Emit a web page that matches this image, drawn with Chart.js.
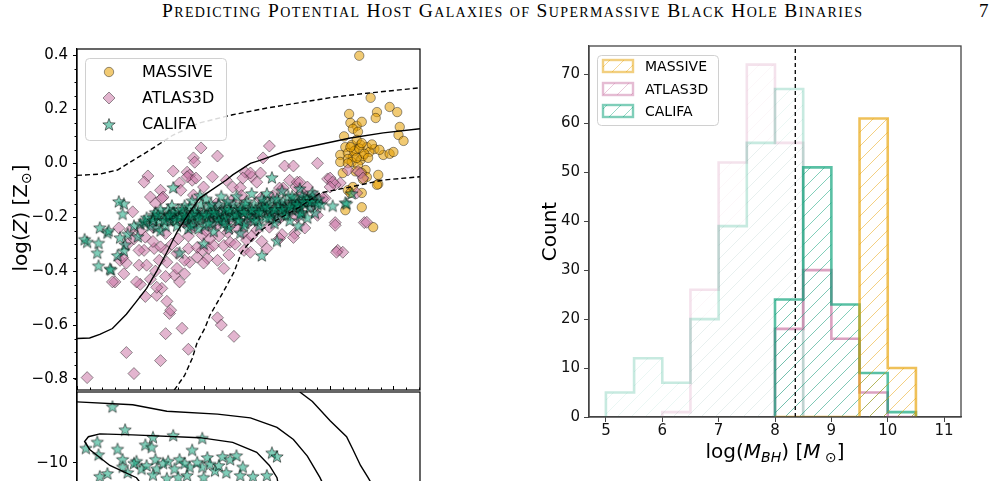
<!DOCTYPE html>
<html>
<head>
<meta charset="utf-8">
<script src="https://cdn.jsdelivr.net/npm/chart.js@4.4.1/dist/chart.umd.min.js"></script>
<style>
html, body { margin: 0; padding: 0; width: 1000px; height: 481px; overflow: hidden; background: #fff; }
canvas { position: absolute; }
#head { position: absolute; left: 162px; top: 0; display: inline-block; white-space: nowrap;
        font-family: "Liberation Serif", serif; font-variant: small-caps; font-size: 19.5px; color: #000; }
#page { position: absolute; left: 979px; top: 0; font-family: "Liberation Serif", serif; font-size: 19px; color: #000; }
</style>
</head>
<body>
<div id="head">Predicting Potential Host Galaxies of Supermassive Black Hole Binaries</div>
<div id="page">7</div>
<canvas id="zTop" width="440" height="400" style="left:0;top:0"></canvas>
<canvas id="zLow" width="440" height="200" style="left:0;top:385px"></canvas>
<canvas id="hist" width="480" height="451" style="left:500px;top:30px"></canvas>
<script>
// ---------- left panel: metallicity vs mass ----------
const massivePts = [
  [11.23,0.399],[11.32,0.243],[11.47,0.209],[11.53,0.19],[11.37,0.19],[11.36,0.168],[11.15,0.183],
  [11.16,0.15],[11.21,0.139],[11.25,0.154],[11.18,0.128],[11.22,0.117],[11.55,0.135],[11.54,0.105],
  [11.58,0.083],[11.12,0.06],[11.20,0.05],[11.24,0.068],[11.29,0.06],[11.35,0.053],[11.42,0.031],
  [11.47,0.035],[11.08,0.031],[11.14,0.038],[11.18,0.023],[11.08,0.005],[11.14,0.016],[11.24,0.012],
  [11.28,-0.025],[11.25,-0.036],[11.10,-0.036],[11.38,-0.043],[11.29,-0.051],[11.38,-0.077],
  [11.14,-0.10],[11.16,-0.11],[11.18,-0.088],[11.25,-0.11],[11.12,-0.174],[11.25,-0.163],[11.34,-0.237],
  [11.37,-0.08],[11.17,0.068],[11.31,0.042],[11.26,0.027],[11.21,0.087],[11.39,0.05],[11.50,0.042],
  [11.17,0.005],[11.22,-0.006],[11.19,0.045],[11.23,0.055],[11.27,0.035],[11.21,0.02],[11.16,0.06],
  [11.25,0.075],[11.30,0.02],[11.14,0.0],[11.20,-0.03],[11.26,-0.06],[11.33,0.07],[11.11,0.10]
];
const atlasPts = [
  [9.98,0.057],[9.92,0.02],[10.11,0.027],[9.93,0.004],[10.52,0.064],[10.47,0.02],[10.64,-0.01],[10.71,-0.01],
  [10.90,0.0],[9.56,-0.047],[9.76,-0.029],[9.87,-0.033],[9.89,-0.044],[9.91,-0.063],[10.33,-0.033],[10.38,-0.05],
  [9.87,-0.05],[9.94,-0.055],[10.07,-0.05],[10.98,-0.058],[11.08,-0.073],[11.14,-0.025],[11.22,-0.03],[10.42,-0.07],
  [10.68,-0.063],[10.73,-0.088],[10.60,-0.092],[10.23,-0.088],[9.66,-0.10],[9.58,-0.125],[9.53,-0.07],[9.81,-0.073],
  [9.82,-0.10],[9.68,-0.125],[9.62,-0.148],[9.44,-0.18],[9.92,-0.118],[10.37,-0.036],[10.45,-0.036],[10.31,-0.055],
  [10.18,-0.063],[10.74,-0.07],[10.82,-0.088],[10.63,-0.092],[10.78,-0.11],[10.0,-0.088],[10.29,-0.09],[11.0,-0.055],
  [11.04,-0.08],[10.96,-0.13],[10.76,-0.07],[11.24,-0.036],[11.26,-0.055],[11.21,-0.11],[11.02,-0.07],[11.0,-0.088],
  [9.67,-0.13],[10.15,-0.18],[10.94,-0.13],
  [9.33,-0.24],[9.42,-0.248],[9.54,-0.274],[9.60,-0.237],[10.15,-0.21],[10.07,-0.20],[10.19,-0.256],[10.26,-0.237],
  [10.42,-0.248],[10.59,-0.21],[10.74,-0.20],[10.80,-0.24],[10.72,-0.26],[10.52,-0.237],[10.62,-0.264],[9.92,-0.237],
  [9.99,-0.267],[10.90,-0.193],[11.04,-0.22],[11.27,-0.22],[11.04,-0.23],[11.06,-0.323],[11.10,-0.33],[11.05,-0.33],
  [11.29,-0.219],[10.34,-0.285],
  [9.08,-0.795],[9.39,-0.702],[9.45,-0.78],[9.66,-0.732],[9.70,-0.632],[9.83,-0.612],[9.88,-0.69],[9.73,-0.557],
  [9.74,-0.545],[9.71,-0.512],[9.63,-0.49],[9.54,-0.494],[9.50,-0.449],[9.47,-0.44],[9.67,-0.464],[9.63,-0.46],
  [9.30,-0.44],[9.37,-0.41],[9.34,-0.36],[9.39,-0.37],[9.49,-0.378],[9.55,-0.378],[9.81,-0.44],[9.85,-0.41],
  [9.77,-0.415],[10.11,-0.573],[10.14,-0.60],[10.24,-0.642],[10.16,-0.39],[10.20,-0.34],[10.11,-0.36],[10.03,-0.353],
  [9.95,-0.348],[9.89,-0.367],[9.79,-0.39],[9.71,-0.367],[9.65,-0.36],[9.53,-0.323],[9.61,-0.316],[9.70,-0.323],
  [9.79,-0.334],[9.88,-0.316],[9.95,-0.312],[9.99,-0.323],[10.04,-0.316],[10.08,-0.305],[10.16,-0.305],[10.21,-0.293],
  [10.32,-0.323],[10.37,-0.33],[10.50,-0.316],[10.60,-0.279],[10.71,-0.275],[9.49,-0.323],[9.28,-0.44],
  [9.75,-0.20],[9.85,-0.22],[9.95,-0.19],[10.02,-0.25],[10.10,-0.23],[10.20,-0.21],[10.28,-0.18],[10.35,-0.22],
  [10.40,-0.19],[10.48,-0.17],[10.55,-0.19],[10.62,-0.16],[10.68,-0.18],[10.75,-0.15],[10.85,-0.16],[10.88,-0.12],
  [10.10,-0.15],[10.22,-0.14],[10.30,-0.12],[10.45,-0.13],[10.55,-0.12],[9.70,-0.26],[9.80,-0.28],[9.88,-0.27],
  [10.05,-0.28],[10.12,-0.27],[10.25,-0.30],[10.31,-0.26],[10.38,-0.27],[10.46,-0.29],[9.60,-0.29],[9.66,-0.31],
  [9.75,-0.30],[9.62,-0.40],[9.70,-0.42],[9.85,-0.36],[10.00,-0.37],[9.58,-0.43],[9.40,-0.30],[9.45,-0.28],
  [9.50,-0.25],[9.36,-0.35]
];
const califaPts = [
  [9.08,-0.29],[9.17,-0.294],[9.16,-0.33],[9.17,-0.378],[9.18,-0.237],[9.24,-0.256],[9.27,-0.393],[9.37,-0.148],
  [9.36,-0.186],[9.34,-0.274],[9.38,-0.30],[9.37,-0.323],[9.32,-0.34],[9.50,-0.223],[9.54,-0.219],[9.60,-0.20],
  [9.63,-0.237],[9.66,-0.248],[9.73,-0.193],[9.75,-0.155],[9.76,-0.088],[9.81,-0.33],[9.87,-0.212],[10.46,-0.34],
  [10.58,-0.286],[11.02,-0.156],[11.12,-0.144],[10.54,-0.051],[9.25,-0.248],[9.06,-0.28],[9.61,-0.19],[9.53,-0.212],
  [9.77,-0.186],[9.85,-0.155],[9.91,-0.137],[10.76,-0.092],[9.97,-0.118],[10.29,-0.256],[10.75,-0.23],[10.86,-0.107],
  [10.80,-0.125],[11.13,-0.148],[11.17,-0.11],[10.78,-0.182],[10.82,-0.20],[10.88,-0.182],[9.26,-0.39],[10.0,-0.297],
  [9.40,-0.26],[9.45,-0.23],[9.48,-0.27],[9.33,-0.14],
  [9.55,-0.20],[9.58,-0.23],[9.62,-0.18],[9.65,-0.21],[9.68,-0.19],[9.70,-0.23],[9.72,-0.17],[9.74,-0.21],
  [9.77,-0.20],[9.79,-0.23],[9.80,-0.17],[9.82,-0.19],[9.84,-0.21],[9.86,-0.18],[9.88,-0.24],[9.89,-0.16],
  [9.90,-0.20],[9.92,-0.22],[9.94,-0.17],[9.95,-0.19],[9.97,-0.21],[9.98,-0.15],[10.00,-0.18],[10.01,-0.23],
  [10.03,-0.20],[10.04,-0.16],[10.06,-0.19],[10.07,-0.22],[10.09,-0.17],[10.10,-0.20],[10.12,-0.15],[10.13,-0.18],
  [10.15,-0.21],[10.16,-0.19],[10.18,-0.16],[10.19,-0.23],[10.21,-0.18],[10.22,-0.20],[10.24,-0.15],[10.25,-0.17],
  [10.27,-0.21],[10.28,-0.19],[10.30,-0.16],[10.31,-0.18],[10.33,-0.22],[10.34,-0.14],[10.36,-0.17],[10.37,-0.20],
  [10.39,-0.18],[10.40,-0.15],[10.42,-0.19],[10.43,-0.21],[10.45,-0.16],[10.46,-0.18],[10.48,-0.14],[10.49,-0.20],
  [10.51,-0.17],[10.52,-0.15],[10.54,-0.19],[10.55,-0.13],[10.57,-0.17],[10.58,-0.20],[10.60,-0.15],[10.61,-0.18],
  [10.63,-0.14],[10.64,-0.16],[10.66,-0.19],[10.67,-0.12],[10.69,-0.15],[10.70,-0.17],[10.72,-0.13],[10.73,-0.16],
  [10.75,-0.14],[10.77,-0.18],[10.78,-0.12],[10.80,-0.15],[10.82,-0.13],[10.84,-0.16],[10.86,-0.12],[10.88,-0.14],
  [10.91,-0.13],[10.93,-0.15],
  [9.66,-0.17],[9.71,-0.20],[9.76,-0.18],[9.83,-0.17],[9.87,-0.20],[9.93,-0.18],[9.99,-0.19],[10.05,-0.18],
  [10.11,-0.19],[10.17,-0.17],[10.23,-0.19],[10.29,-0.17],[10.35,-0.19],[10.41,-0.17],[10.47,-0.16],[10.53,-0.18],
  [10.59,-0.16],[10.65,-0.17],[10.71,-0.15],[10.76,-0.16],[10.83,-0.14],[10.02,-0.13],[10.14,-0.12],[10.26,-0.12],
  [10.38,-0.11],[10.50,-0.11],[10.62,-0.10],[9.96,-0.24],[10.08,-0.25],[10.20,-0.24],[10.32,-0.23],[10.44,-0.23],
  [10.56,-0.22],[10.68,-0.21],
  [9.60,-0.21],[9.64,-0.19],[9.69,-0.21],[9.73,-0.19],[9.78,-0.21],[9.81,-0.20],[9.85,-0.19],[9.91,-0.19],
  [9.96,-0.20],[10.02,-0.19],[10.08,-0.18],[10.12,-0.21],[10.17,-0.20],[10.20,-0.17],[10.26,-0.19],[10.32,-0.18],
  [10.38,-0.17],[10.44,-0.18],[10.50,-0.16],[10.56,-0.17],[10.62,-0.17],[10.68,-0.16],[10.74,-0.15],[10.79,-0.14],
  [10.85,-0.14],[10.90,-0.15],[10.06,-0.15],[10.19,-0.14],[10.33,-0.15],[10.46,-0.13],[10.58,-0.13],[10.70,-0.12],
  [9.90,-0.23],[10.04,-0.22],[10.16,-0.22],[10.28,-0.21],[10.40,-0.21],[10.52,-0.20],[10.64,-0.19],[10.76,-0.19]
];
const medianCurve = [
  [9.0,-0.65],[9.10,-0.648],[9.18,-0.635],[9.28,-0.613],[9.39,-0.56],[9.47,-0.512],[9.55,-0.464],[9.63,-0.40],
  [9.71,-0.33],[9.79,-0.255],[9.89,-0.18],[9.97,-0.129],[10.03,-0.11],[10.18,-0.062],[10.23,-0.043],[10.37,0.0],
  [10.445,0.011],[10.63,0.042],[10.90,0.068],[11.16,0.094],[11.42,0.113],[11.71,0.128]
];
const upperCurve = [
  [9.0,-0.045],[9.18,-0.04],[9.32,-0.025],[9.44,0.01],[9.58,0.05],[9.76,0.105],[9.97,0.15],[10.23,0.18],
  [10.5,0.205],[10.76,0.225],[11.02,0.245],[11.29,0.26],[11.71,0.28]
];
const lowerCurve = [
  [9.75,-0.87],[9.77,-0.84],[9.85,-0.787],[9.91,-0.724],[9.95,-0.664],[10.01,-0.612],[10.05,-0.564],[10.11,-0.515],
  [10.17,-0.465],[10.24,-0.404],[10.30,-0.33],[10.37,-0.29],[10.45,-0.25],[10.55,-0.218],[10.76,-0.162],
  [10.92,-0.11],[11.16,-0.088],[11.42,-0.062],[11.71,-0.05]
];
const zTicks = [-0.8, -0.6, -0.4, -0.2, 0.0, 0.2, 0.4];
const massTicks = [9.0, 9.5, 10.0, 10.5, 11.0, 11.5];

// lower left subplot (cut by the page edge)
const califaLowPts = [
  [9.28,-8.80],[9.38,-9.29],[9.16,-9.55],[9.07,-9.68],[9.17,-9.82],[9.32,-9.70],[9.54,-9.61],[9.60,-9.45],
  [9.59,-9.66],[9.76,-9.41],[9.99,-9.47],[9.91,-9.72],[9.36,-9.92],[9.47,-9.96],[9.51,-10.12],[9.62,-9.92],
  [9.63,-10.12],[9.72,-9.96],[9.77,-10.12],[9.81,-9.92],[9.89,-10.08],[9.99,-10.08],[10.03,-9.88],[10.09,-10.16],
  [10.15,-9.86],[10.21,-9.92],[10.26,-9.84],[10.31,-10.08],[10.54,-9.78],[10.58,-9.86],[10.50,-10.26],[9.18,-10.28],
  [9.24,-10.22],[9.36,-10.08],[9.71,-10.32],[9.87,-10.26],[10.29,-10.26],[10.39,-10.28],[9.45,-10.0],[9.55,-10.05],
  [9.68,-10.0],[9.85,-10.0],[9.95,-9.98],[10.05,-10.02],[10.12,-10.05],[10.18,-10.2],[9.40,-10.2],[9.60,-10.25],
  [9.80,-10.3],[10.0,-10.3]
];
const contourOuter = [[9.0,-8.71],[9.44,-8.77],[9.71,-8.91],[10.11,-8.97],[10.37,-9.05],[10.58,-9.25],[10.71,-9.51],[10.82,-9.86],[10.92,-10.32],[10.97,-10.6]];
const contourInner = [[9.55,-10.6],[9.47,-10.32],[9.26,-10.06],[9.10,-9.72],[9.06,-9.55],[9.09,-9.45],[9.18,-9.39],[9.44,-9.41],[9.97,-9.47],[10.23,-9.57],[10.42,-9.78],[10.52,-10.06],[10.58,-10.32],[10.60,-10.6]];
const contourRight = [[10.76,-8.50],[10.86,-8.70],[11.0,-9.11],[11.13,-9.45],[11.18,-9.72],[11.24,-10.06],[11.30,-10.32],[11.36,-10.6]];
const lowTicks = [-12, -10];

// ---------- right panel: black hole mass histograms ----------
const binWidth = 0.5;
const califaLowStart = 5.0,  califaLowCounts  = [5, 12, 7, 20, 39, 56, 67];
const atlasLowStart = 6.0,   atlasLowCounts   = [1, 26, 52, 72, 56];
const massiveHighStart = 8.0, massiveHighCounts = [0, 0, 0, 61, 10];
const atlasHighStart = 8.0,  atlasHighCounts  = [18, 30, 16, 5, 0];
const califaHighStart = 8.0, califaHighCounts = [24, 51, 23, 9, 1];
const bhCut = 8.36;
const countTicks = [0, 10, 20, 30, 40, 50, 60, 70];
const bhTicks = [5, 6, 7, 8, 9, 10, 11];

// ---------- styling helpers ----------
Chart.defaults.font.family = '"DejaVu Sans", sans-serif';
const ORANGE = [230, 159, 0], PINK = [204, 121, 167], GREEN = [0, 158, 115];
const rgba = (c, a) => `rgba(${c[0]},${c[1]},${c[2]},${a})`;
const xy = pts => pts.map(p => ({ x: p[0], y: p[1] }));
const fmt = (v, d) => (v < 0 ? '\u2212' : '') + Math.abs(v).toFixed(d);
const noPad = s => { s.paddingTop = 0; s.paddingBottom = 0; };

function starImg(fill, edge, r) {
  const s = Math.ceil(2 * r + 3), c = document.createElement('canvas');
  c.width = c.height = s;
  const g = c.getContext('2d');
  g.beginPath();
  for (let i = 0; i < 10; i++) {
    const a = -Math.PI / 2 + i * Math.PI / 5, rr = i % 2 ? r * 0.42 : r;
    g.lineTo(s / 2 + rr * Math.cos(a), s / 2 + 1 + rr * Math.sin(a));
  }
  g.closePath();
  g.fillStyle = fill; g.fill();
  g.lineWidth = 0.9; g.strokeStyle = edge; g.stroke();
  return c;
}
const star = starImg(rgba(GREEN, 0.5), 'rgba(0,0,0,0.6)', 6.5);

function hatch(color) {
  const s = 14, c = document.createElement('canvas');
  c.width = c.height = s;
  const g = c.getContext('2d');
  g.strokeStyle = color; g.lineWidth = 0.9;
  g.beginPath();
  g.moveTo(0, s); g.lineTo(s, 0);
  g.moveTo(-2, 2); g.lineTo(2, -2);
  g.moveTo(s - 2, s + 2); g.lineTo(s + 2, s - 2);
  g.stroke();
  return g.createPattern(c, 'repeat');
}

// text with italic / subscript parts, centred on (cx, cy)
function drawMath(ctx, parts, cx, cy, rot, size) {
  const fontOf = p => `${p.it ? 'italic ' : ''}${p.sub ? Math.round(size * 0.7) : size}px "DejaVu Sans"`;
  ctx.save();
  ctx.translate(cx, cy); ctx.rotate(rot);
  let total = 0;
  parts.forEach(p => { ctx.font = fontOf(p); p.w = ctx.measureText(p.t).width; total += p.w; });
  let x = -total / 2;
  ctx.fillStyle = '#000'; ctx.textBaseline = 'alphabetic';
  parts.forEach(p => {
    ctx.font = fontOf(p);
    ctx.fillText(p.t, x, size * 0.36 + (p.sub ? size * 0.2 : 0));
    x += p.w;
  });
  ctx.restore();
}

function frameBox(ctx, x, y, w, h, r) {
  ctx.beginPath();
  ctx.moveTo(x + r, y); ctx.lineTo(x + w - r, y); ctx.quadraticCurveTo(x + w, y, x + w, y + r);
  ctx.lineTo(x + w, y + h - r); ctx.quadraticCurveTo(x + w, y + h, x + w - r, y + h);
  ctx.lineTo(x + r, y + h); ctx.quadraticCurveTo(x, y + h, x, y + h - r);
  ctx.lineTo(x, y + r); ctx.quadraticCurveTo(x, y, x + r, y);
  ctx.closePath();
}

function drawPointShape(ctx, style, x, y) {
  if (style === 'star') { ctx.drawImage(star, x - star.width / 2, y - star.height / 2); return; }
  ctx.beginPath();
  if (style === 'circle') ctx.arc(x, y, 4.7, 0, 2 * Math.PI);
  else { ctx.moveTo(x - 6, y); ctx.lineTo(x, y - 6); ctx.lineTo(x + 6, y); ctx.lineTo(x, y + 6); ctx.closePath(); }
  ctx.fillStyle = style === 'circle' ? rgba(ORANGE, 0.55) : rgba(PINK, 0.55);
  ctx.fill();
  ctx.strokeStyle = 'rgba(0,0,0,0.45)'; ctx.lineWidth = 0.9; ctx.stroke();
}

const curve = (pts, dash) => ({
  type: 'line', data: xy(pts), showLine: true, borderColor: '#000', borderWidth: 1.4,
  borderDash: dash, pointRadius: 0, fill: false, order: 0
});

// ---------- upper-left chart ----------
const topPlugin = {
  id: 'topDecor',
  afterDraw(chart) {
    const { ctx, chartArea: a, scales: { x, y } } = chart;
    ctx.save();
    ctx.strokeStyle = '#000'; ctx.lineWidth = 1;
    ctx.beginPath();
    for (let v = -0.8; v <= 0.41; v += 0.05) {
      const py = Math.round(y.getPixelForValue(v)) + 0.5;
      ctx.moveTo(a.left - 2.5, py); ctx.lineTo(a.left, py);
    }
    for (let v = 9.0; v <= 11.71; v += 0.1) {
      const px = Math.round(x.getPixelForValue(v)) + 0.5;
      const major = massTicks.some(t => Math.abs(t - v) < 1e-6);
      ctx.moveTo(px, a.bottom); ctx.lineTo(px, a.bottom - (major ? 4 : 2.5));
    }
    ctx.stroke();
    ctx.lineWidth = 1.2;
    ctx.strokeRect(a.left, a.top, a.right - a.left, a.bottom - a.top);
    // legend
    frameBox(ctx, 85.5, 58.5, 141, 82, 4);
    ctx.fillStyle = 'rgba(255,255,255,0.85)'; ctx.fill();
    ctx.strokeStyle = '#d0d0d0'; ctx.lineWidth = 1; ctx.stroke();
    const rows = [['MASSIVE', 'circle', 72], ['ATLAS3D', 'diamond', 98], ['CALIFA', 'star', 124]];
    rows.forEach(r => {
      drawPointShape(ctx, r[1], 109, r[2]);
      ctx.fillStyle = '#000'; ctx.font = '16px "DejaVu Sans"'; ctx.textBaseline = 'middle';
      ctx.fillText(r[0], 142, r[2] + 1);
    });
    drawMath(ctx, [{ t: 'log(' }, { t: 'Z', it: 1 }, { t: ') [' }, { t: 'Z' }, { t: '\u2299', sub: 1 }, { t: ']' }],
      20, 218, -Math.PI / 2, 20);
    ctx.restore();
  }
};

new Chart(document.getElementById('zTop'), {
  type: 'scatter',
  data: {
    datasets: [
      curve(medianCurve, []),
      curve(upperCurve, [5, 3]),
      curve(lowerCurve, [5, 3]),
      { label: 'CALIFA', data: xy(califaPts), pointStyle: star, pointRadius: 6, order: 1 },
      { label: 'ATLAS3D', data: xy(atlasPts), pointStyle: 'rectRot', pointRadius: 6,
        backgroundColor: rgba(PINK, 0.55), borderColor: 'rgba(0,0,0,0.45)', borderWidth: 0.9, order: 2 },
      { label: 'MASSIVE', data: xy(massivePts), pointStyle: 'circle', pointRadius: 4.7,
        backgroundColor: rgba(ORANGE, 0.55), borderColor: 'rgba(0,0,0,0.45)', borderWidth: 0.9, order: 3 }
    ]
  },
  options: {
    responsive: false, animation: false, events: [],
    layout: { padding: { left: 0, right: 20, top: 49, bottom: 10 } },
    plugins: { legend: { display: false }, tooltip: { enabled: false } },
    scales: {
      x: { type: 'linear', min: 9.0, max: 11.71, display: false },
      y: {
        type: 'linear', min: -0.841, max: 0.424,
        afterBuildTicks: s => { s.ticks = zTicks.map(v => ({ value: v })); },
        afterFit: s => { s.width = 77; noPad(s); },
        grid: { drawOnChartArea: false, tickLength: 4, color: '#000' },
        border: { display: true, color: '#000', width: 1.2 },
        ticks: { color: '#000', font: { size: 15 }, padding: 5, callback: v => fmt(v, 1) }
      }
    }
  },
  plugins: [topPlugin]
});

// ---------- lower-left chart ----------
new Chart(document.getElementById('zLow'), {
  type: 'scatter',
  data: {
    datasets: [
      curve(contourOuter, []),
      curve(contourInner, []),
      curve(contourRight, []),
      { label: 'CALIFA', data: xy(califaLowPts), pointStyle: star, pointRadius: 6, order: 1 }
    ]
  },
  options: {
    responsive: false, animation: false, events: [],
    layout: { padding: { left: 0, right: 20, top: 5, bottom: 0 } },
    plugins: { legend: { display: false }, tooltip: { enabled: false } },
    scales: {
      x: { type: 'linear', min: 9.0, max: 11.71, display: false },
      y: {
        type: 'linear', min: -12.45, max: -8.5,
        afterBuildTicks: s => { s.ticks = lowTicks.map(v => ({ value: v })); },
        afterFit: s => { s.width = 77; noPad(s); },
        grid: { drawOnChartArea: false, tickLength: 4, color: '#000' },
        border: { display: true, color: '#000', width: 1.2 },
        ticks: { color: '#000', font: { size: 15 }, padding: 5, callback: v => fmt(v, 0) }
      }
    }
  },
  plugins: [{
    id: 'lowFrame',
    afterDraw(chart) {
      const { ctx, chartArea: a } = chart;
      ctx.save(); ctx.strokeStyle = '#000'; ctx.lineWidth = 1.2;
      ctx.strokeRect(a.left, a.top, a.right - a.left, a.bottom - a.top);
      ctx.restore();
    }
  }]
});

// ---------- right chart: histograms ----------
function stepPts(start, counts) {
  const pts = [{ x: start, y: 0 }];
  counts.forEach((c, i) => pts.push({ x: start + i * binWidth, y: c }));
  pts.push({ x: start + counts.length * binWidth, y: 0 });
  return pts;
}
function histSet(label, start, counts, col, alpha, hatchAlpha, order) {
  return {
    label, data: stepPts(start, counts), stepped: 'before', fill: 'origin',
    borderColor: rgba(col, alpha), borderWidth: 2.6, backgroundColor: hatch(rgba(col, hatchAlpha)),
    pointRadius: 0, order
  };
}

const histPlugin = {
  id: 'histDecor',
  afterDraw(chart) {
    const { ctx, chartArea: a } = chart;
    ctx.save();
    ctx.strokeStyle = '#444'; ctx.lineWidth = 1.3;
    ctx.strokeRect(a.left, a.top, a.right - a.left, a.bottom - a.top);
    frameBox(ctx, 97.5, 25.5, 121, 70, 4);
    ctx.fillStyle = 'rgba(255,255,255,0.85)'; ctx.fill();
    ctx.strokeStyle = '#d0d0d0'; ctx.lineWidth = 1; ctx.stroke();
    [['MASSIVE', ORANGE, 36], ['ATLAS3D', PINK, 59], ['CALIFA', GREEN, 81]].forEach(r => {
      ctx.fillStyle = hatch(rgba(r[1], 0.45));
      ctx.fillRect(103, r[2] - 6, 30, 12);
      ctx.strokeStyle = rgba(r[1], 0.5); ctx.lineWidth = 2.4;
      ctx.strokeRect(103, r[2] - 6, 30, 12);
      ctx.fillStyle = '#000'; ctx.font = '14px "DejaVu Sans"'; ctx.textBaseline = 'middle';
      ctx.fillText(r[0], 145, r[2] + 1);
    });
    drawMath(ctx, [{ t: 'log(' }, { t: 'M', it: 1 }, { t: 'BH', it: 1, sub: 1 }, { t: ') [' },
      { t: 'M', it: 1 }, { t: ' \u2299', sub: 1 }, { t: ']' }], 275, 421, 0, 20);
    ctx.restore();
  }
};

new Chart(document.getElementById('hist'), {
  type: 'line',
  data: {
    datasets: [
      { label: 'cut', data: [{ x: bhCut, y: 0 }, { x: bhCut, y: 75.8 }], borderColor: '#000', borderWidth: 1.3,
        borderDash: [4, 3], pointRadius: 0, fill: false, order: 0 },
      histSet('MASSIVE', massiveHighStart, massiveHighCounts, ORANGE, 0.65, 0.55, 1),
      histSet('CALIFA', califaHighStart, califaHighCounts, GREEN, 0.65, 0.55, 2),
      histSet('ATLAS3D', atlasHighStart, atlasHighCounts, PINK, 0.7, 0.12, 3),
      histSet('CALIFA low', califaLowStart, califaLowCounts, GREEN, 0.22, 0.09, 4),
      histSet('ATLAS3D low', atlasLowStart, atlasLowCounts, PINK, 0.22, 0.07, 5)
    ]
  },
  options: {
    responsive: false, animation: false, events: [],
    layout: { padding: { left: 0, right: 19, top: 16, bottom: 0 } },
    plugins: { legend: { display: false }, tooltip: { enabled: false } },
    scales: {
      x: {
        type: 'linear', min: 4.7, max: 11.3,
        afterBuildTicks: s => { s.ticks = bhTicks.map(v => ({ value: v })); },
        afterFit: s => { s.height = 64; },
        grid: { drawOnChartArea: false, tickLength: 5, color: '#444' },
        border: { display: true, color: '#444', width: 1.3 },
        ticks: { color: '#111', font: { size: 15 }, padding: 0 }
      },
      y: {
        type: 'linear', min: 0, max: 75.8,
        afterBuildTicks: s => { s.ticks = countTicks.map(v => ({ value: v })); },
        afterFit: s => { s.width = 89; },
        grid: { drawOnChartArea: false, tickLength: 5, color: '#444' },
        border: { display: true, color: '#444', width: 1.3 },
        ticks: { color: '#111', font: { size: 15 }, padding: 4 },
        title: { display: true, text: 'Count', color: '#000', font: { size: 20 }, padding: { top: 39, bottom: 0 } }
      }
    }
  },
  plugins: [histPlugin]
});

// stretch the running head to the width it has in the page
const head = document.getElementById('head');
const w0 = head.getBoundingClientRect().width;
head.style.letterSpacing = ((700 - w0) / (head.textContent.length - 1)) + 'px';
</script>
</body>
</html>
